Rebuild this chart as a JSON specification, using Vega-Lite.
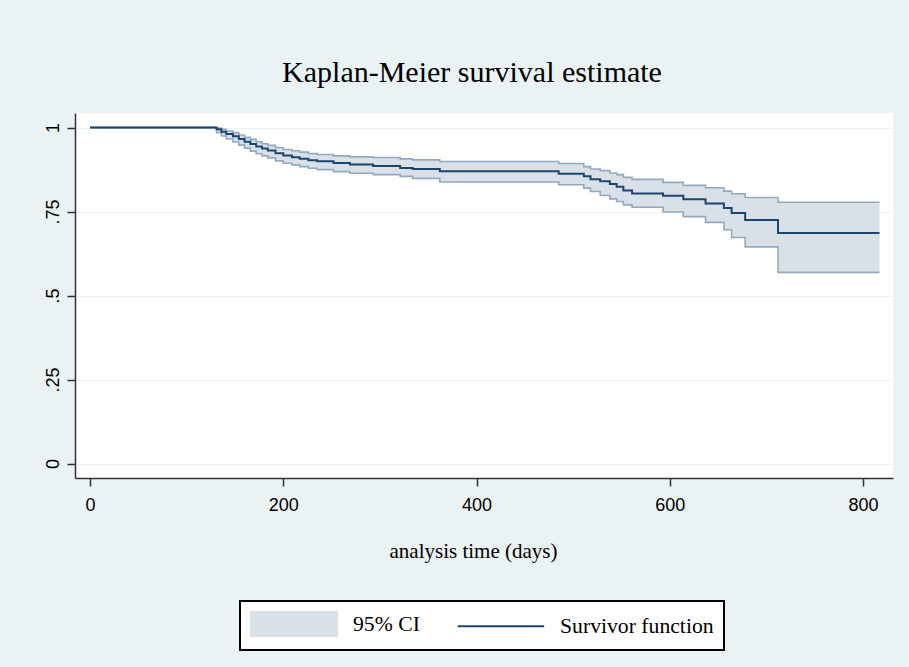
{
  "$schema": "https://vega.github.io/schema/vega-lite/v6.json",
  "width": 818,
  "height": 365,
  "autosize": {"type": "none"},
  "padding": {"left": 75, "top": 113, "right": 16, "bottom": 189},
  "background": "#eaf2f3",
  "config": {"view": {"fill": "white", "stroke": null}},
  "title": {"text": "Kaplan-Meier survival estimate", "font": "Liberation Serif", "fontSize": 30, "fontWeight": "normal", "color": "black", "frame": "group", "anchor": "middle", "dx": -12, "offset": 1, "baseline": "alphabetic"},
  "data": {"values": [
    {"t": 0, "s": 1, "lo": 1, "hi": 1},
    {"t": 131, "s": 0.995, "lo": 0.985, "hi": 0.999},
    {"t": 136, "s": 0.988, "lo": 0.975, "hi": 0.995},
    {"t": 141, "s": 0.981, "lo": 0.966, "hi": 0.990},
    {"t": 148, "s": 0.974, "lo": 0.957, "hi": 0.985},
    {"t": 154, "s": 0.966, "lo": 0.948, "hi": 0.978},
    {"t": 160, "s": 0.958, "lo": 0.939, "hi": 0.971},
    {"t": 166, "s": 0.951, "lo": 0.930, "hi": 0.965},
    {"t": 172, "s": 0.944, "lo": 0.922, "hi": 0.958},
    {"t": 178, "s": 0.938, "lo": 0.916, "hi": 0.952},
    {"t": 184, "s": 0.932, "lo": 0.910, "hi": 0.947},
    {"t": 192, "s": 0.924, "lo": 0.901, "hi": 0.941},
    {"t": 200, "s": 0.917, "lo": 0.894, "hi": 0.935},
    {"t": 209, "s": 0.912, "lo": 0.889, "hi": 0.931},
    {"t": 217, "s": 0.907, "lo": 0.884, "hi": 0.927},
    {"t": 226, "s": 0.903, "lo": 0.879, "hi": 0.923},
    {"t": 235, "s": 0.900, "lo": 0.875, "hi": 0.920},
    {"t": 252, "s": 0.895, "lo": 0.869, "hi": 0.916},
    {"t": 269, "s": 0.890, "lo": 0.864, "hi": 0.913},
    {"t": 293, "s": 0.886, "lo": 0.860, "hi": 0.911},
    {"t": 321, "s": 0.880, "lo": 0.855, "hi": 0.907},
    {"t": 334, "s": 0.877, "lo": 0.849, "hi": 0.904},
    {"t": 362, "s": 0.870, "lo": 0.838, "hi": 0.899},
    {"t": 485, "s": 0.863, "lo": 0.830, "hi": 0.893},
    {"t": 511, "s": 0.855, "lo": 0.820, "hi": 0.884},
    {"t": 518, "s": 0.846, "lo": 0.810, "hi": 0.877},
    {"t": 528, "s": 0.840, "lo": 0.798, "hi": 0.872},
    {"t": 538, "s": 0.832, "lo": 0.788, "hi": 0.865},
    {"t": 545, "s": 0.824, "lo": 0.780, "hi": 0.860},
    {"t": 552, "s": 0.813, "lo": 0.770, "hi": 0.852},
    {"t": 561, "s": 0.804, "lo": 0.763, "hi": 0.846},
    {"t": 593, "s": 0.797, "lo": 0.749, "hi": 0.837},
    {"t": 614, "s": 0.787, "lo": 0.735, "hi": 0.828},
    {"t": 637, "s": 0.774, "lo": 0.718, "hi": 0.821},
    {"t": 656, "s": 0.761, "lo": 0.696, "hi": 0.811},
    {"t": 664, "s": 0.746, "lo": 0.673, "hi": 0.803},
    {"t": 678, "s": 0.725, "lo": 0.645, "hi": 0.792},
    {"t": 712, "s": 0.686, "lo": 0.569, "hi": 0.778},
    {"t": 817, "s": 0.686, "lo": 0.569, "hi": 0.778}
  ]},
  "encoding": {
    "x": {
      "field": "t", "type": "quantitative",
      "scale": {"domain": [-15.5, 831], "nice": false, "zero": false},
      "axis": {
        "title": "analysis time (days)", "titleFont": "Liberation Serif", "titleFontSize": 21, "titleFontWeight": "normal", "titleColor": "black",
        "titleX": 398, "titleY": 79, "titleBaseline": "alphabetic", "titleAlign": "center",
        "values": [0, 200, 400, 600, 800],
        "labelFont": "Liberation Sans", "labelFontSize": 18, "labelColor": "black", "labelPadding": 10, "labelFlush": false, "labelOverlap": false,
        "tickSize": 8, "tickColor": "#333333", "tickWidth": 1.5,
        "domainColor": "#333333", "domainWidth": 1.5, "grid": false
      }
    }
  },
  "layer": [
    {
      "mark": {"type": "area", "interpolate": "step-after", "opacity": 1, "fill": "#dae0e7"},
      "encoding": {
        "y": {
          "field": "lo", "type": "quantitative",
          "scale": {"domain": [-0.0429, 1.0435], "nice": false, "zero": false},
          "axis": {
            "title": null,
            "values": [0, 0.25, 0.5, 0.75, 1],
            "labelExpr": "replace(toString(datum.value), /^0\\./, '.')",
            "labelAngle": -90, "labelAlign": "center", "labelBaseline": "alphabetic",
            "labelFont": "Liberation Sans", "labelFontSize": 18, "labelColor": "black", "labelPadding": 9, "labelFlush": false, "labelOverlap": false,
            "tickSize": 8, "tickColor": "#333333", "tickWidth": 1.5,
            "domainColor": "#333333", "domainWidth": 1.5,
            "grid": true, "gridColor": "#eaf2f3", "gridWidth": 1.2
          }
        },
        "y2": {"field": "hi"}
      }
    },
    {
      "mark": {"type": "line", "interpolate": "step-after", "stroke": "#93a9be", "strokeWidth": 1.6},
      "encoding": {"y": {"field": "lo", "type": "quantitative", "title": null}}
    },
    {
      "mark": {"type": "line", "interpolate": "step-after", "stroke": "#93a9be", "strokeWidth": 1.6},
      "encoding": {"y": {"field": "hi", "type": "quantitative", "title": null}}
    },
    {
      "mark": {"type": "line", "interpolate": "step-after", "strokeWidth": 2},
      "encoding": {
        "y": {"field": "s", "type": "quantitative", "title": null},
        "color": {
          "datum": "Survivor function",
          "scale": {"domain": ["95% CI", "Survivor function"], "range": ["#dae0e7", "#1a476f"]},
          "legend": {
            "title": null,
            "orient": "none", "legendX": 165, "legendY": 488,
            "direction": "horizontal",
            "symbolSize": 576,
            "symbolStrokeWidth": 0,
            "symbolOffset": 31,
            "labelOffset": 46,
            "columnPadding": 33,
            "padding": 10,
            "strokeColor": "black",
            "fillColor": "white",
            "cornerRadius": 0,
            "labelFont": "Liberation Serif", "labelFontSize": 21.7, "labelColor": "black",
            "encode": {
              "legend": {"update": {"strokeWidth": {"value": 2}}},
              "symbols": {"update": {
                "shape": {"signal": "datum.value === '95% CI' ? 'M-3.6,-1H3.6V1H-3.6Z' : 'M-3.6,0H3.6'"},
                "fill": {"signal": "datum.value === '95% CI' ? '#dae0e7' : 'transparent'"},
                "stroke": {"signal": "datum.value === '95% CI' ? 'transparent' : '#1a476f'"},
                "strokeWidth": {"value": 2},
                "opacity": {"value": 1}
              }}
            }
          }
        }
      }
    }
  ]
}
